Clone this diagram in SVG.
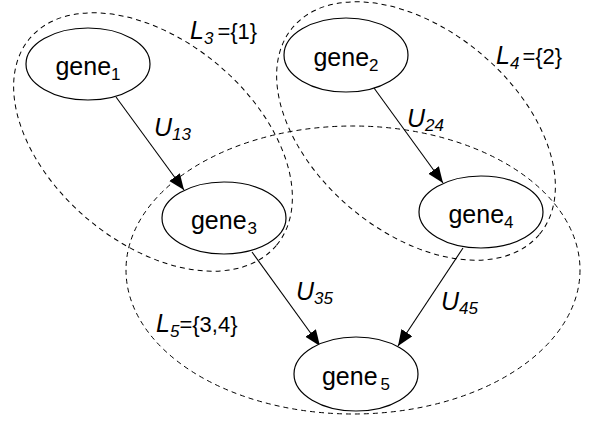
<svg xmlns="http://www.w3.org/2000/svg" width="589" height="421" viewBox="0 0 589 421">
  <style>
    .node { fill: #fff; stroke: #000; stroke-width: 1.2; }
    .group { fill: none; stroke: #000; stroke-width: 1; stroke-dasharray: 5 4; }
    .edge { stroke: #000; stroke-width: 1.1; fill: none; marker-end: url(#arrow); }
    .gene { font-family: "Liberation Sans", Arial, sans-serif; font-size: 25px; text-anchor: middle; fill: #000; }
    .sub { font-size: 17px; }
    .lab { font-family: "Liberation Sans", Arial, sans-serif; font-size: 25px; font-style: italic; fill: #000; }
    .set { font-style: normal; font-size: 22px; }
  </style>
  <defs>
    <marker id="arrow" markerUnits="userSpaceOnUse" markerWidth="18" markerHeight="14" refX="16" refY="6.5" orient="auto">
      <path d="M0,0 L16,6.5 L0,13 z" fill="#000"/>
    </marker>
  </defs>

  <!-- dashed groupings -->
  <g id="groups">
    <ellipse class="group" cx="153" cy="142" rx="161" ry="101" transform="rotate(40 153 142)"/>
    <ellipse class="group" cx="416" cy="131" rx="161" ry="101" transform="rotate(40 416 131)"/>
    <ellipse class="group" cx="353" cy="270" rx="227" ry="144"/>
  </g>

  <!-- edges -->
  <g id="connectors">
    <line class="edge" x1="116" y1="97" x2="184" y2="190"/>
    <line class="edge" x1="374" y1="88" x2="443" y2="183"/>
    <line class="edge" x1="252" y1="252" x2="320" y2="346"/>
    <line class="edge" x1="463" y1="248" x2="398" y2="346"/>
  </g>

  <g id="gene1">
    <ellipse class="node" cx="88" cy="64" rx="62" ry="36"/>
    <text class="gene" x="88" y="75">gene<tspan class="sub" dy="5">1</tspan></text>
  </g>
  <g id="gene2">
    <ellipse class="node" cx="346" cy="55" rx="62" ry="37"/>
    <text class="gene" x="346" y="66">gene<tspan class="sub" dy="5">2</tspan></text>
  </g>
  <g id="gene3">
    <ellipse class="node" cx="224" cy="218" rx="62" ry="36"/>
    <text class="gene" x="224" y="229">gene<tspan class="sub" dx="1" dy="5">3</tspan></text>
  </g>
  <g id="gene4">
    <ellipse class="node" cx="481" cy="212" rx="62" ry="36"/>
    <text class="gene" x="481" y="223">gene<tspan class="sub" dy="5">4</tspan></text>
  </g>
  <g id="gene5">
    <ellipse class="node" cx="356" cy="374" rx="62" ry="37"/>
    <text class="gene" x="356" y="385">gene<tspan class="sub" dx="3" dy="5">5</tspan></text>
  </g>

  <!-- edge labels -->
  <g id="edge-labels">
    <text class="lab" x="154" y="136">U<tspan class="sub" dy="4">13</tspan></text>
    <text class="lab" x="407" y="127">U<tspan class="sub" dy="4">24</tspan></text>
    <text class="lab" x="296" y="300">U<tspan class="sub" dy="4">35</tspan></text>
    <text class="lab" x="441" y="310">U<tspan class="sub" dy="4">45</tspan></text>
  </g>

  <!-- group labels -->
  <g id="group-labels">
    <text class="lab" x="190" y="39">L<tspan class="sub" dy="5">3</tspan><tspan class="set" dx="4" dy="-5">={1}</tspan></text>
    <text class="lab" x="496" y="64">L<tspan class="sub" dy="5">4</tspan><tspan class="set" dx="3" dy="-5">={2}</tspan></text>
    <text class="lab" x="156" y="332">L<tspan class="sub" dy="5">5</tspan><tspan class="set" dy="-5">={3,4}</tspan></text>
  </g>
</svg>
